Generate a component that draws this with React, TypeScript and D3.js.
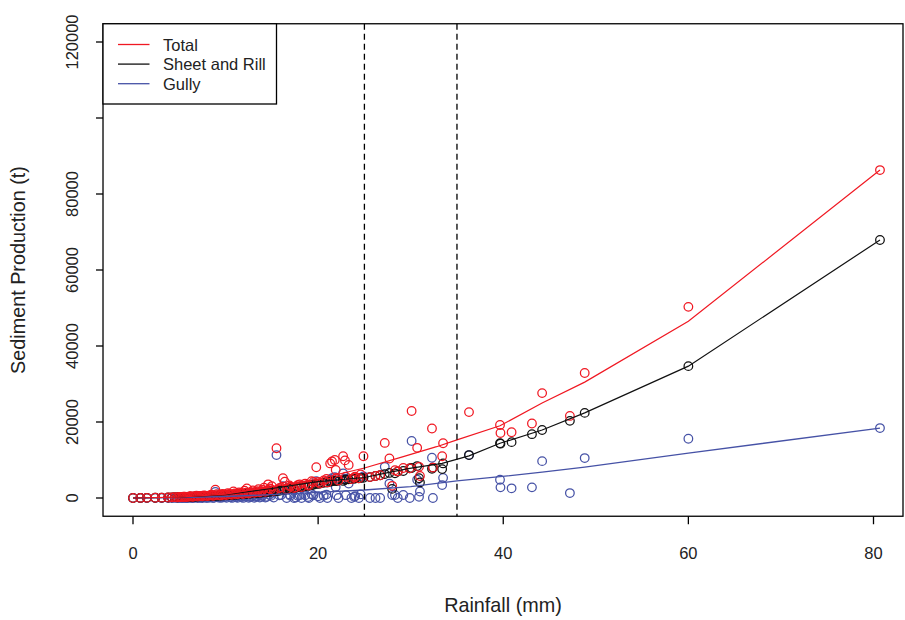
import React from "react";
import * as d3 from "d3";

// ---- Event data (rainfall in mm, sediment in t) ----
const rainfall = [
  0, 0.8, 1.5, 2.4, 3.1, 3.8,
  4.2, 4.5, 4.8, 5.0, 5.3, 5.6, 5.9, 6.1, 6.4, 6.7, 7.0, 7.2, 7.5, 7.8,
  8.1, 8.3, 8.6, 8.9, 9.2, 9.5, 9.8, 10.1, 10.4, 10.7, 11.0, 11.3, 11.6, 11.9,
  12.2, 12.3, 12.5, 12.8, 13.1, 13.4, 13.7, 14.0, 14.3, 14.6, 14.9, 15.2,
  15.5, 15.8, 16.2, 16.4, 16.6, 17.0, 17.4, 17.8, 18.2, 18.6, 19.0, 19.5, 19.8,
  20.2, 20.6, 21.0, 21.3, 21.5, 21.8, 21.9, 22.2, 22.7, 22.9, 23.3, 23.6, 24.0,
  24.4, 24.9, 25.6, 26.2, 26.7, 27.2, 27.7, 28.0, 28.3, 28.6, 29.2, 29.9, 30.1,
  30.7, 30.9, 31.0, 32.3, 32.4, 33.4, 33.5, 36.3,
  39.65, 39.7, 40.9, 43.1, 44.2, 47.2, 48.8, 60.0, 80.7,
  5.15, 5.45, 5.75, 6.25, 6.55, 6.85, 7.35, 7.65, 7.95, 8.45, 8.75, 9.05, 9.35,
  9.65, 9.95, 10.25, 10.55, 10.85, 11.15, 11.45, 11.75, 12.05, 12.65, 12.95,
  13.25, 13.55, 13.85, 14.15, 14.45, 14.75, 15.0, 16.0, 16.9, 17.6, 18.0, 18.9,
  19.3, 20.0, 20.9, 22.0, 23.0, 23.9, 24.6,
];
const total = [
  0, 20, 40, 60, 90, 120,
  180, 250, 150, 300, 220, 350, 280, 420, 310, 480, 390, 560, 450, 620,
  520, 700, 600, 2200, 750, 680, 900, 780, 1050, 850, 1200, 950, 1300, 1050,
  1400, 2500, 1200, 1550, 1350, 1800, 1500, 2100, 1650, 3600, 2300, 1900,
  13100, 2600, 5200, 4300, 2300, 3000, 2600, 3400, 2900, 3800, 3300, 4200, 8100,
  3800, 4600, 4100, 9100, 9600, 10000, 7400, 4600, 11000, 9900, 8700, 5000, 5600,
  5200, 11000, 5500, 5800, 6000, 14500, 10400, 3200, 7300, 7000, 7900, 7800, 22900,
  13200, 8200, 5800, 18300, 8000, 11000, 14400, 22600,
  19200, 17100, 17300, 19600, 27600, 21600, 32900, 50300, 86300,
  260, 330, 240, 450, 370, 600, 500, 700, 560, 850, 650, 1000, 820,
  1100, 950, 1300, 1000, 1700, 1100, 1500, 1250, 1900, 1450, 2000,
  1600, 2300, 1750, 2700, 1900, 2500, 3100, 2800, 3300, 2800, 3600, 3500,
  4400, 4200, 5000, 5300, 5600, 5400, 6200,
];
const sheetRill = [
  0, 20, 40, 60, 90, 120,
  180, 230, 150, 260, 220, 300, 280, 340, 310, 380, 390, 430, 450, 480,
  500, 540, 580, 600, 640, 660, 700, 750, 800, 830, 880, 920, 980, 1030,
  1080, 1100, 1150, 1200, 1280, 1340, 1400, 1480, 1550, 1620, 1700, 1780,
  1800, 1900, 2100, 2200, 2300, 2400, 2600, 2800, 2900, 3100, 3300, 3500, 3700,
  3800, 4000, 4100, 4300, 4400, 4500, 4500, 4600, 4500, 4800, 4900, 5000, 5100,
  5200, 5300, 5500, 5800, 6000, 6300, 6600, 2400, 6500, 7000, 7100, 7800, 7900,
  8400, 5200, 4100, 7700, 8000, 7600, 9100, 11300,
  14400, 14300, 14700, 16800, 17900, 20300, 22400, 34700, 67900,
  240, 280, 240, 330, 340, 400, 440, 470, 490, 560, 590, 620, 650,
  680, 720, 780, 810, 860, 900, 950, 1000, 1050, 1180, 1240,
  1300, 1370, 1440, 1510, 1580, 1660, 1740, 2000, 2350, 2700, 2850, 3250,
  3400, 3750, 4100, 4550, 4850, 5100, 5250,
];
const gully = [
  0, 0, 0, 0, 0, 0,
  0, 20, 0, 40, 0, 50, 0, 80, 0, 100, 0, 130, 0, 140,
  20, 160, 20, 1600, 110, 20, 200, 30, 250, 20, 320, 30, 320, 20,
  320, 1400, 50, 350, 70, 460, 100, 620, 100, 1980, 600, 120,
  11300, 700, 3100, 2100, 0, 600, 0, 600, 0, 700, 0, 700, 4400,
  0, 600, 0, 4800, 5200, 5500, 2900, 0, 6500, 5100, 3800, 0, 500,
  0, 5700, 0, 0, 0, 8200, 3800, 800, 800, 0, 800, 0, 15000,
  4800, 300, 1700, 10600, 0, 3400, 5300, 11300,
  4800, 2800, 2550, 2800, 9700, 1300, 10500, 15600, 18400,
  20, 50, 0, 120, 30, 200, 60, 230, 70, 290, 60, 380, 170,
  420, 230, 520, 190, 840, 200, 550, 250, 850, 270, 760,
  300, 930, 310, 1190, 320, 840, 1360, 800, 950, 100, 750, 250,
  1000, 450, 900, 750, 750, 300, 950,
];

// ---- Fitted curves ----
const totalFitX = [0, 5, 10, 15, 20, 25, 29.2, 32.8, 35, 39.65, 44.2, 48.8, 60, 80.7];
const totalFitY = [0, 250, 1000, 3000, 5000, 7900, 10900, 13500, 15300, 19000, 25000, 30500, 46500, 86300];
const sheetFitX = [0, 5, 10, 15, 20, 25, 27.8, 29.9, 33.4, 36.3, 39.65, 44.2, 48.8, 60, 80.7];
const sheetFitY = [0, 200, 900, 2500, 4300, 5400, 6800, 7800, 9100, 11100, 14400, 17900, 22400, 34700, 67900];
const gullyFitX = [0, 5, 10, 15, 20, 25, 30, 35, 39.65, 44.2, 48.8, 60, 80.7];
const gullyFitY = [0, 100, 400, 900, 1500, 2100, 3000, 4500, 5600, 6800, 8100, 11800, 18400];

// ---- Axes / annotations ----
const xTicks = [0, 20, 40, 60, 80];
const yTicks = [0, 20000, 40000, 60000, 80000, 100000, 120000];
const yTickLabels = ["0", "20000", "40000", "60000", "80000", "", "120000"];
const thresholds = [25, 35];
const legendLabels = ["Total", "Sheet and Rill", "Gully"];

const RED = "#f01822";
const BLACK = "#111";
const BLUE = "#4652a6";
const FONT = "'Liberation Sans', Arial, sans-serif";

export default function App() {
  const x = d3.scaleLinear().domain([0, 80]).range([133, 873.5]);
  const y = d3.scaleLinear().domain([0, 120000]).range([498, 42]);
  const left = x(-3.24);
  const right = 903;
  const top = y(124800);
  const bottom = y(-4800);

  const line = d3
    .line<[number, number]>()
    .x((d) => x(d[0]))
    .y((d) => y(d[1]));
  const zip = (a: number[], b: number[]) => a.map((v, i) => [v, b[i]] as [number, number]);

  const pts = (vals: number[], color: string, key: string) =>
    rainfall.map((r, i) => (
      <circle key={key + i} cx={x(r)} cy={y(vals[i])} r={4.3} fill="none" stroke={color} strokeWidth={1.25} />
    ));

  const legendColors = [RED, BLACK, BLUE];

  return (
    <svg
      width={905}
      height={620}
      style={{ position: "absolute", left: 0, top: 0, background: "#fff" }}
      fontFamily={FONT}
    >
      <rect x={0} y={0} width={905} height={620} fill="#fff" />
      {/* points */}
      <g>{pts(gully, BLUE, "g")}</g>
      <g>{pts(sheetRill, BLACK, "s")}</g>
      <g>{pts(total, RED, "t")}</g>
      {/* fitted lines */}
      <path d={line(zip(gullyFitX, gullyFitY)) || ""} fill="none" stroke={BLUE} strokeWidth={1.3} />
      <path d={line(zip(sheetFitX, sheetFitY)) || ""} fill="none" stroke={BLACK} strokeWidth={1.2} />
      <path d={line(zip(totalFitX, totalFitY)) || ""} fill="none" stroke={RED} strokeWidth={1.2} />
      {/* threshold lines */}
      {thresholds.map((t) => (
        <line key={t} x1={x(t)} x2={x(t)} y1={top} y2={bottom} stroke="#000" strokeWidth={1.3} strokeDasharray="6,4" />
      ))}
      {/* box */}
      <rect x={left} y={top} width={right - left} height={bottom - top} fill="none" stroke="#000" strokeWidth={1.3} />
      {/* x axis */}
      {xTicks.map((t) => (
        <g key={t}>
          <line x1={x(t)} x2={x(t)} y1={bottom} y2={bottom + 8} stroke="#000" strokeWidth={1.3} />
          <text x={x(t)} y={559} textAnchor="middle" fontSize={16.5} fill="#222">
            {t}
          </text>
        </g>
      ))}
      {/* y axis */}
      {yTicks.map((t, i) => (
        <g key={t}>
          <line x1={left - 7} x2={left} y1={y(t)} y2={y(t)} stroke="#000" strokeWidth={1.3} />
          {yTickLabels[i] && (
            <text
              transform={`translate(78,${y(t)}) rotate(-90)`}
              textAnchor="middle"
              fontSize={16.5}
              fill="#222"
            >
              {yTickLabels[i]}
            </text>
          )}
        </g>
      ))}
      {/* axis titles */}
      <text x={(left + right) / 2} y={612} textAnchor="middle" fontSize={19.8} fill="#222">
        Rainfall (mm)
      </text>
      <text
        transform={`translate(25,${(top + bottom) / 2}) rotate(-90)`}
        textAnchor="middle"
        fontSize={19.8}
        fill="#222"
      >
        Sediment Production (t)
      </text>
      {/* legend */}
      <rect x={left} y={top} width={276.5 - left} height={104 - top} fill="#fff" stroke="#000" strokeWidth={1.3} />
      {legendLabels.map((lab, i) => (
        <g key={lab}>
          <line x1={118} x2={149.5} y1={44.5 + i * 19.6} y2={44.5 + i * 19.6} stroke={legendColors[i]} strokeWidth={1.3} />
          <text x={163} y={44.5 + i * 19.6 + 6} fontSize={16.5} fill="#222">
            {lab}
          </text>
        </g>
      ))}
    </svg>
  );
}
